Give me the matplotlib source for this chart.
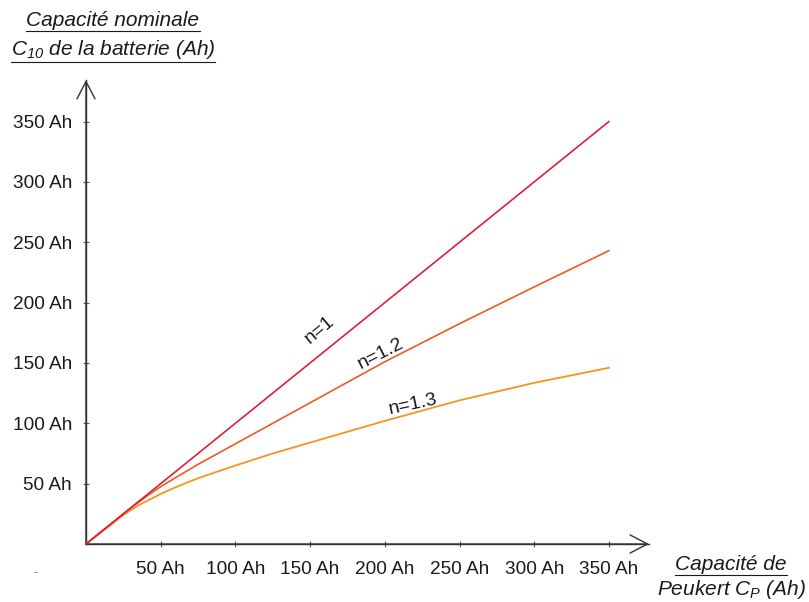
import matplotlib
matplotlib.use('Agg')
import matplotlib.pyplot as plt
from matplotlib.lines import Line2D

plt.rcParams['font.family'] = ['Liberation Sans', 'DejaVu Sans']
plt.rcParams['mathtext.fontset'] = 'custom'
plt.rcParams['mathtext.rm'] = 'Liberation Sans:italic'
plt.rcParams['mathtext.it'] = 'Liberation Sans:italic'

# ---- data ----
cp_n1 = [0, 350]
c10_n1 = [0, 350]
cp_n12 = [0, 25, 40, 50, 60, 75, 100, 125, 150, 200, 250, 300, 350]
c10_n12 = [0, 25, 39, 47.5, 55, 66, 83, 100, 117, 151, 182.5, 213, 243]
cp_n13 = [0, 25, 35, 50, 60, 75, 88, 100, 125, 150, 175, 200, 250, 300, 350]
c10_n13 = [0, 24, 32, 41.5, 47, 54.5, 60, 65, 75, 84, 93, 102, 119, 133.5, 146]
tick_values = [50, 100, 150, 200, 250, 300, 350]
tick_labels = ['50 Ah', '100 Ah', '150 Ah', '200 Ah', '250 Ah', '300 Ah', '350 Ah']
series_labels = ['n=1', 'n=1.2', 'n=1.3']

W, H = 809, 602
fig = plt.figure(figsize=(W / 100, H / 100), dpi=100)

ox, oy = 86, 544        # origin in pixels (from top)
tipx, tipy = 649, 80    # arrow tips
ax = fig.add_axes([ox / W, (H - oy) / H, (tipx - ox) / W, (oy - tipy) / H])
ax.set_xlim(0, (tipx - ox) / 1.494)
ax.set_ylim(0, (oy - tipy) / 1.207)

for s in ['top', 'right']:
    ax.spines[s].set_visible(False)
for s in ['left', 'bottom']:
    ax.spines[s].set_color('#333333')
    ax.spines[s].set_linewidth(1.0)

ax.set_xticks(tick_values)
ax.set_xticklabels(tick_labels)
ax.set_yticks(tick_values)
ax.set_yticklabels(tick_labels)
ax.tick_params(axis='both', direction='inout', length=5, width=0.8, color='#555555',
               labelsize=13.7, labelcolor='#1a1a1a')
ax.tick_params(axis='x', pad=10)
ax.tick_params(axis='y', pad=7.5)

arrow_kw = dict(arrowstyle='->,head_length=1.25,head_width=0.65', lw=1.0,
                color='#333333', shrinkA=0, shrinkB=0, mutation_scale=10)
ax.annotate('', xy=(1, 0), xytext=(0, 0), xycoords='axes fraction',
            textcoords='axes fraction', arrowprops=arrow_kw, annotation_clip=False)
ax.annotate('', xy=(0, 1), xytext=(0, 0), xycoords='axes fraction',
            textcoords='axes fraction', arrowprops=arrow_kw, annotation_clip=False)

colors = ['#dc1f3c', '#f05a22', '#f7941d']
ax.plot(cp_n1, c10_n1, color=colors[0], lw=1.2, clip_on=False, zorder=3)
ax.plot(cp_n12, c10_n12, color=colors[1], lw=1.2, clip_on=False, zorder=2)
ax.plot(cp_n13, c10_n13, color=colors[2], lw=1.3, clip_on=False, zorder=1)

lkw = dict(ha='center', va='center', fontsize=14, color='#1a1a1a')
ax.text(156, 177, series_labels[0], rotation=40, **lkw)
ax.text(197, 158, series_labels[1], rotation=27, **lkw)
ax.text(219, 116, series_labels[2], rotation=12, **lkw)

def ftext(px, py, s, **kw):
    return fig.text(px / W, (H - py) / H, s, **kw)

tkw = dict(fontsize=15, style='italic', color='#1a1a1a', ha='center', va='baseline')
t1 = ftext(113, 26, 'Capacité nominale', **tkw)
t2 = ftext(113, 55, r'$\mathit{C_{10}}$ de la batterie (Ah)', **tkw)
t3 = ftext(731, 570, 'Capacité de', **tkw)
t4 = ftext(732, 595, r'Peukert $\mathit{C_{P}}$ (Ah)', **tkw)
ftext(35, 573, '-', fontsize=9, color='#777777', ha='center', va='center')

fig.canvas.draw()
r = fig.canvas.get_renderer()
for t, dy in [(t1, 1), (t2, 1), (t3, 1)]:
    bb = t.get_window_extent(renderer=r)
    y = (bb.y0 - dy) / H
    fig.add_artist(Line2D([bb.x0 / W, bb.x1 / W], [y, y], transform=fig.transFigure,
                          color='#1a1a1a', lw=0.8))

fig.savefig('out.png', dpi=100)
